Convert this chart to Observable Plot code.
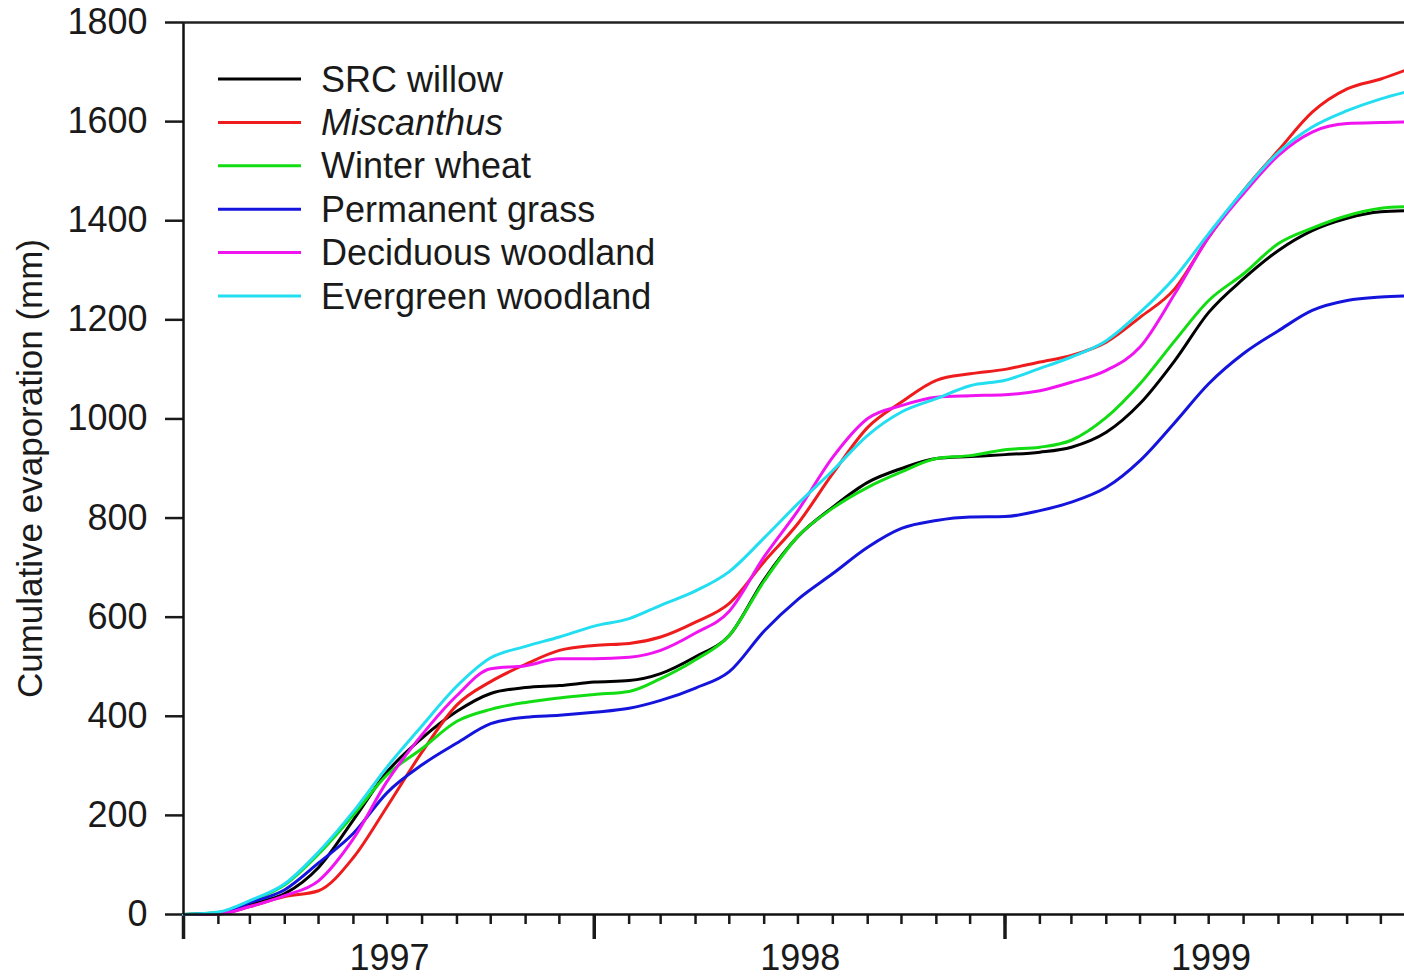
<!DOCTYPE html>
<html>
<head>
<meta charset="utf-8">
<script src="https://cdn.jsdelivr.net/npm/d3@7"></script>
<script src="https://cdn.jsdelivr.net/npm/@observablehq/plot@0.6"></script>
<style>
  html, body { margin: 0; padding: 0; background: #fff; overflow: hidden; }
  #wrap { position: relative; width: 1404px; height: 978px; }
  #legend { position: absolute; left: 0; top: 0; }
</style>
</head>
<body>
<div id="wrap"><div id="chart"></div><svg id="legend" width="700" height="330"></svg></div>
<script>
// ---- data ----
const dates = [
  "1997-01-01","1997-02-01","1997-03-01","1997-04-01","1997-05-01","1997-06-01",
  "1997-07-01","1997-08-01","1997-09-01","1997-10-01","1997-11-01","1997-12-01",
  "1998-01-01","1998-02-01","1998-03-01","1998-04-01","1998-05-01","1998-06-01",
  "1998-07-01","1998-08-01","1998-09-01","1998-10-01","1998-11-01","1998-12-01",
  "1999-01-01","1999-02-01","1999-03-01","1999-04-01","1999-05-01","1999-06-01",
  "1999-07-01","1999-08-01","1999-09-01","1999-10-01","1999-11-01","1999-12-01",
  "1999-12-22"
];
const seriesNames = ["SRC willow", "Miscanthus", "Winter wheat", "Permanent grass", "Deciduous woodland", "Evergreen woodland"];
const seriesColors = ["#000000", "#ee1c1c", "#12dd12", "#1414dc", "#f014f0", "#22def0"];

const srcWillow = [0, 2, 20, 42, 95, 191, 288, 356, 410, 446, 458, 462, 469, 472, 486, 520, 563, 676, 763, 822, 872, 900, 920, 924, 928, 933, 943, 973, 1031, 1118, 1215, 1283, 1340, 1380, 1405, 1418, 1420];
const miscanthus = [0, 1, 16, 36, 48, 115, 218, 328, 423, 470, 505, 533, 543, 547, 560, 590, 628, 712, 789, 890, 983, 1034, 1078, 1091, 1100, 1115, 1128, 1155, 1205, 1263, 1367, 1461, 1542, 1619, 1666, 1686, 1703];
const winterWheat = [0, 4, 27, 60, 122, 201, 282, 335, 390, 414, 428, 437, 444, 450, 476, 514, 563, 673, 763, 820, 862, 893, 920, 926, 938, 943, 957, 1003, 1071, 1158, 1239, 1293, 1354, 1385, 1410, 1425, 1428];
const permanentGrass = [0, 3, 24, 50, 104, 164, 246, 302, 346, 385, 398, 402, 408, 416, 432, 457, 490, 572, 636, 688, 741, 779, 795, 802, 803, 815, 832, 862, 916, 993, 1071, 1132, 1178, 1219, 1239, 1246, 1248];
const deciduousWoodland = [0, 1, 16, 38, 68, 153, 269, 363, 442, 496, 502, 516, 516, 519, 533, 568, 612, 722, 815, 923, 1001, 1027, 1044, 1047, 1049, 1057, 1074, 1098, 1145, 1253, 1367, 1455, 1532, 1579, 1596, 1598, 1599];
const evergreenWoodland = [0, 5, 28, 62, 126, 208, 298, 381, 461, 518, 541, 560, 582, 597, 624, 653, 692, 760, 829, 896, 967, 1014, 1041, 1067, 1078, 1102, 1125, 1158, 1215, 1286, 1374, 1461, 1538, 1589, 1622, 1646, 1659];

const yTicks = [0, 200, 400, 600, 800, 1000, 1200, 1400, 1600, 1800];
const yearLabels = ["1997", "1998", "1999"];

// ---- build table ----
const seriesValues = [srcWillow, miscanthus, winterWheat, permanentGrass, deciduousWoodland, evergreenWoodland];
const rows = [];
seriesNames.forEach((name, i) => {
  seriesValues[i].forEach((v, j) => rows.push({series: name, date: new Date(dates[j]), value: v}));
});

const start = new Date(dates[0]);
const end = new Date(dates[dates.length - 1]);
const monthTicks = d3.utcMonth.range(start, end);
const yearTicks = yearLabels.map(y => new Date(Date.UTC(+y, 0, 1)));
const yearMid = yearLabels.map(y => new Date(Date.UTC(+y, 6, 3)));

const font = "'Liberation Sans', Arial, Helvetica, sans-serif";

const chart = Plot.plot({
  width: 1404,
  height: 978,
  marginLeft: 183,
  marginRight: 0,
  marginTop: 22,
  marginBottom: 64,
  style: {fontFamily: font, fontSize: "36px", background: "#fff", color: "#1a1a1a", overflow: "visible"},
  x: {type: "utc", domain: [start, end]},
  y: {domain: [0, 1800]},
  color: {domain: seriesNames, range: seriesColors},
  marks: [
    Plot.axisY({ticks: yTicks, tickSize: 18, tickPadding: 18, strokeWidth: 2.5, label: null, tickFormat: d => String(d), fill: "#1a1a1a"}),
    Plot.axisX({ticks: monthTicks, tickSize: 10, strokeWidth: 2.5, tickFormat: () => "", label: null}),
    Plot.axisX({ticks: yearTicks, tickSize: 25, strokeWidth: 3.5, tickFormat: () => "", label: null}),
    Plot.axisX({ticks: yearMid, tickSize: 0, tickPadding: 30, tickFormat: d3.utcFormat("%Y"), label: null, fill: "#1a1a1a"}),
    Plot.lineY(rows, {x: "date", y: "value", z: "series", stroke: "series", strokeWidth: 3, curve: "monotone-x"}),
    Plot.ruleX([start], {stroke: "#111", strokeWidth: 2.5}),
    Plot.ruleY([0], {stroke: "#111", strokeWidth: 2.5}),
    Plot.ruleY([1800], {stroke: "#222", strokeWidth: 2.5}),
    Plot.text(["Cumulative evaporation (mm)"], {frameAnchor: "left", dx: -153, rotate: -90, fontSize: 35, textAnchor: "middle", lineAnchor: "middle", fill: "#1a1a1a"})
  ]
});
document.getElementById("chart").appendChild(chart);

// ---- legend ----
const lg = d3.select("#legend");
seriesNames.forEach((name, i) => {
  const cy = 79 + i * 43.4;
  lg.append("line").attr("x1", 218).attr("x2", 301).attr("y1", cy).attr("y2", cy)
    .attr("stroke", seriesColors[i]).attr("stroke-width", 3);
  lg.append("text").attr("x", 321).attr("y", cy + 12.5)
    .attr("font-family", font).attr("font-size", 36).attr("fill", "#1a1a1a")
    .attr("font-style", name === "Miscanthus" ? "italic" : "normal")
    .text(name);
});
</script>
</body>
</html>
